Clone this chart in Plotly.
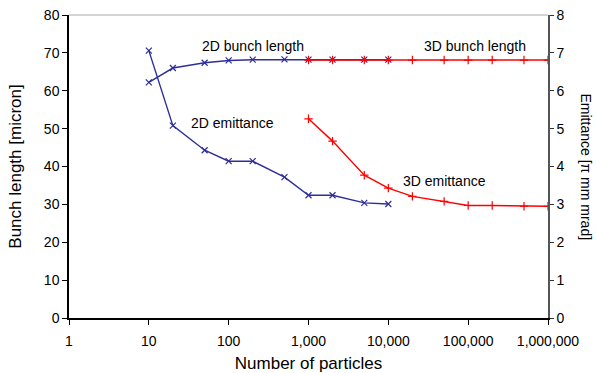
import plotly.graph_objects as go

n2d = [10, 20, 50, 100, 200, 500, 1000, 2000, 5000, 10000]
bunch2d = [62.2, 66.0, 67.4, 68.0, 68.2, 68.3, 68.2, 68.2, 68.2, 68.2]
emit2d = [7.06, 5.08, 4.43, 4.14, 4.14, 3.72, 3.24, 3.24, 3.04, 3.01]

n3d = [1000, 2000, 5000, 10000, 20000, 50000, 100000, 200000, 500000, 1000000]
bunch3d = [68.1, 68.1, 68.1, 68.1, 68.1, 68.1, 68.1, 68.1, 68.1, 68.1]
emit3d = [5.26, 4.67, 3.77, 3.43, 3.21, 3.08, 2.97, 2.97, 2.95, 2.95]

xtickvals = [1, 10, 100, 1000, 10000, 100000, 1000000]
xticktext = ["1", "10", "100", "1,000", "10,000", "100,000", "1,000,000"]

blue = "#2E2E9A"
red = "#FF0000"
font = "Liberation Sans, Arial, sans-serif"

fig = go.Figure()
line_w = 1.4
fig.add_trace(go.Scatter(x=n2d, y=bunch2d, mode="lines+markers", line=dict(color=blue, width=line_w),
                         marker=dict(symbol="x-thin", size=6, line=dict(color=blue, width=1.2)), yaxis="y"))
fig.add_trace(go.Scatter(x=n2d, y=emit2d, mode="lines+markers", line=dict(color=blue, width=line_w),
                         marker=dict(symbol="x-thin", size=6, line=dict(color=blue, width=1.2)), yaxis="y2"))
fig.add_trace(go.Scatter(x=n3d, y=bunch3d, mode="lines+markers", line=dict(color=red, width=line_w),
                         marker=dict(symbol="cross-thin", size=6, line=dict(color=red, width=1.2)), yaxis="y"))
fig.add_trace(go.Scatter(x=n3d, y=emit3d, mode="lines+markers", line=dict(color=red, width=line_w),
                         marker=dict(symbol="cross-thin", size=6, line=dict(color=red, width=1.2)), yaxis="y2"))

fig.update_layout(
    width=597, height=373,
    margin=dict(l=69, r=49, t=15, b=55, autoexpand=False),
    paper_bgcolor="white", plot_bgcolor="white",
    showlegend=False,
    font=dict(family=font, size=14, color="black"),
    xaxis=dict(type="log", range=[0, 6], tickvals=xtickvals, ticktext=xticktext,
               showgrid=False, zeroline=False, showline=True, linecolor="black", linewidth=1.5,
               ticks="outside", ticklen=5, tickcolor="black", automargin=False, ticklabelstandoff=4,
               title=dict(text="Number of particles", standoff=12)),
    yaxis=dict(range=[0, 80], dtick=10, showgrid=False, zeroline=False,
               showline=True, linecolor="black", linewidth=1.5, automargin=False,
               ticks="outside", ticklen=5, tickcolor="black",
               title=dict(text="Bunch length [micron]", standoff=18)),
    yaxis2=dict(range=[0, 8], dtick=1, overlaying="y", side="right", showgrid=False, zeroline=False,
                showline=True, linecolor="#555555", linewidth=1.5, automargin=False,
                ticks="outside", ticklen=4, tickcolor="#333333"),
    shapes=[dict(type="line", xref="paper", yref="paper", x0=0, x1=1, y0=1, y1=1,
                 line=dict(color="#AAAAAA", width=1))],
    annotations=[
        dict(text="Emittance [\u03c0 mm mrad]", xref="paper", yref="paper", x=1.0, y=0.5,
             xshift=48, textangle=90, showarrow=False, font=dict(size=14)),
        dict(text="2D bunch length", xref="x", yref="y", x=2.31, y=71.7, xanchor="center", showarrow=False),
        dict(text="2D emittance", xref="x", yref="y", x=2.05, y=51.6, xanchor="center", showarrow=False),
        dict(text="3D bunch length", xref="x", yref="y", x=5.09, y=71.8, xanchor="center", showarrow=False),
        dict(text="3D emittance", xref="x", yref="y", x=4.70, y=36.3, xanchor="center", showarrow=False),
    ],
)

fig.write_html("out.html", config={"displayModeBar": False},
               post_script="document.body.style.margin='0';document.body.style.overflow='hidden';")
